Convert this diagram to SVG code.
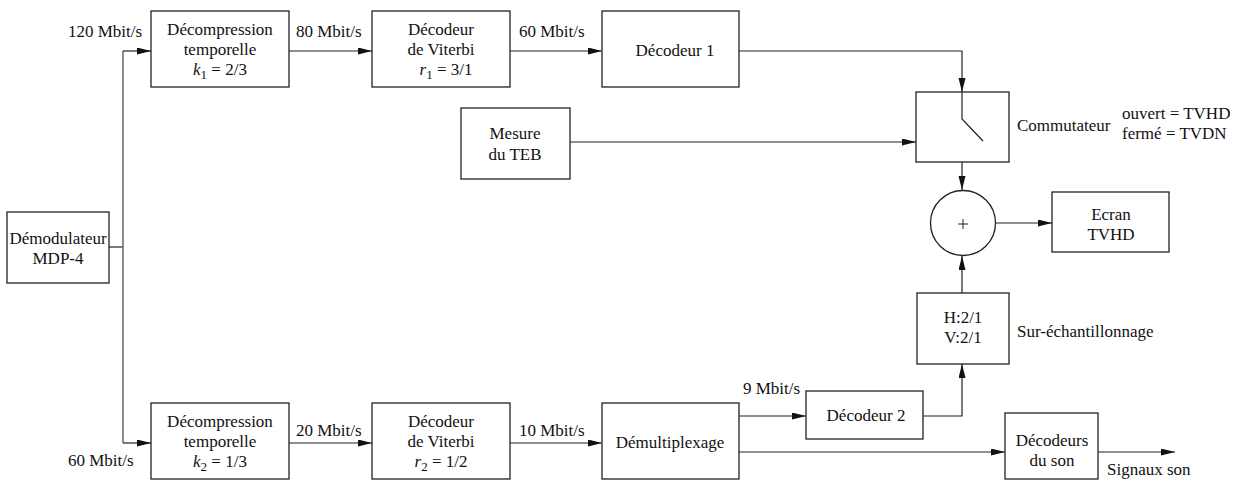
<svg xmlns="http://www.w3.org/2000/svg" width="1238" height="484" viewBox="0 0 1238 484">
<style>
text{font-family:"Liberation Serif","Times New Roman",serif;font-size:17px;fill:#111}
.m{text-anchor:middle}
.box{fill:#fff;stroke:#222;stroke-width:1.3}
.ln{fill:none;stroke:#222;stroke-width:1.2}
.gl{fill:none;stroke:#666;stroke-width:1.5}
.i{font-style:italic}
.s{font-size:13px}
</style>
<defs>
<marker id="a" markerUnits="userSpaceOnUse" markerWidth="15" markerHeight="8" refX="14" refY="3.5" orient="auto">
<path d="M0,0 L14,3.5 L0,7 z" fill="#111"/>
</marker>
</defs>
<rect width="1238" height="484" fill="#fff"/>
<g id="connectors">
<path class="ln" d="M109,247 H123"/>
<path class="gl" d="M123,443 V51"/>
<path class="ln" d="M123,51 H151" marker-end="url(#a)"/>
<path class="ln" d="M123,443 H151" marker-end="url(#a)"/>
<path class="ln" d="M289,51 H372" marker-end="url(#a)"/>
<path class="ln" d="M510,51 H602" marker-end="url(#a)"/>
<path class="ln" d="M739,51 H962 V92" marker-end="url(#a)"/>
<path class="ln" d="M570,142 H916" marker-end="url(#a)"/>
<path class="ln" d="M962,162 V190" marker-end="url(#a)"/>
<path class="ln" d="M996,223 H1052" marker-end="url(#a)"/>
<path class="ln" d="M962,293 V256" marker-end="url(#a)"/>
<path class="ln" d="M289,443 H372" marker-end="url(#a)"/>
<path class="ln" d="M510,443 H602" marker-end="url(#a)"/>
<path class="ln" d="M739,416 H806" marker-end="url(#a)"/>
<path class="ln" d="M923,416 H962 V364" marker-end="url(#a)"/>
<path class="ln" d="M739,452 H1005" marker-end="url(#a)"/>
<path class="ln" d="M1098,452 H1175" marker-end="url(#a)"/>
</g>
<g id="labels">
<text x="68" y="37">120 Mbit/s</text>
<text x="296" y="37">80 Mbit/s</text>
<text x="519" y="37">60 Mbit/s</text>
<text x="68" y="466">60 Mbit/s</text>
<text x="296" y="436">20 Mbit/s</text>
<text x="519" y="436">10 Mbit/s</text>
<text x="743" y="394">9 Mbit/s</text>
<text x="1107" y="475">Signaux son</text>
<text x="1017" y="337">Sur-échantillonnage</text>
<text x="1017" y="131">Commutateur</text>
<text x="1122" y="119">ouvert = TVHD</text>
<text x="1122" y="139">fermé = TVDN</text>
</g>
<g id="demod">
<rect class="box" x="7" y="212" width="102" height="71"/>
<text class="m" x="58" y="244">Démodulateur</text>
<text class="m" x="58" y="264">MDP-4</text>
</g>
<g id="decomp1">
<rect class="box" x="151" y="11" width="138" height="76"/>
<text class="m" x="220" y="35">Décompression</text>
<text class="m" x="220" y="55">temporelle</text>
<text class="m" x="220" y="75"><tspan class="i">k</tspan><tspan class="s" dy="4">1</tspan><tspan dy="-4"> = 2/3</tspan></text>
</g>
<g id="viterbi1">
<rect class="box" x="372" y="11" width="138" height="76"/>
<text class="m" x="441" y="35">Décodeur</text>
<text class="m" x="441" y="55">de Viterbi</text>
<text class="m" x="446" y="75"><tspan class="i">r</tspan><tspan class="s" dy="4">1</tspan><tspan dy="-4"> = 3/1</tspan></text>
</g>
<g id="decodeur1">
<rect class="box" x="602" y="11" width="137" height="76"/>
<text class="m" x="675" y="56">Décodeur 1</text>
</g>
<g id="teb">
<rect class="box" x="461" y="108" width="109" height="71"/>
<text class="m" x="515" y="139">Mesure</text>
<text class="m" x="515" y="160">du TEB</text>
</g>
<g id="commutateur">
<rect class="box" x="916" y="92" width="93" height="70"/>
<path class="ln" d="M962,92 V119 L983,141"/>
</g>
<g id="somme">
<circle cx="963" cy="223" r="32.5" fill="#fff" stroke="#222" stroke-width="1.3"/>
<path d="M958,224 H968 M963,219 V229" stroke="#222" stroke-width="1"/>
</g>
<g id="ecran">
<rect class="box" x="1052" y="192" width="117" height="60"/>
<text class="m" x="1111" y="220">Ecran</text>
<text class="m" x="1111" y="240">TVHD</text>
</g>
<g id="surech">
<rect class="box" x="917" y="293" width="92" height="71"/>
<text class="m" x="963" y="323">H:2/1</text>
<text class="m" x="963" y="343">V:2/1</text>
</g>
<g id="decomp2">
<rect class="box" x="151" y="403" width="138" height="76"/>
<text class="m" x="220" y="427">Décompression</text>
<text class="m" x="220" y="447">temporelle</text>
<text class="m" x="220" y="467"><tspan class="i">k</tspan><tspan class="s" dy="4">2</tspan><tspan dy="-4"> = 1/3</tspan></text>
</g>
<g id="viterbi2">
<rect class="box" x="372" y="403" width="138" height="76"/>
<text class="m" x="441" y="427">Décodeur</text>
<text class="m" x="441" y="447">de Viterbi</text>
<text class="m" x="441" y="467"><tspan class="i">r</tspan><tspan class="s" dy="4">2</tspan><tspan dy="-4"> = 1/2</tspan></text>
</g>
<g id="demux">
<rect class="box" x="602" y="403" width="137" height="76"/>
<text class="m" x="670" y="448">Démultiplexage</text>
</g>
<g id="decodeur2">
<rect class="box" x="806" y="391" width="117" height="48"/>
<text class="m" x="866" y="421">Décodeur 2</text>
</g>
<g id="son">
<rect class="box" x="1005" y="413" width="93" height="66"/>
<text class="m" x="1052" y="446">Décodeurs</text>
<text class="m" x="1052" y="466">du son</text>
</g>
</svg>
